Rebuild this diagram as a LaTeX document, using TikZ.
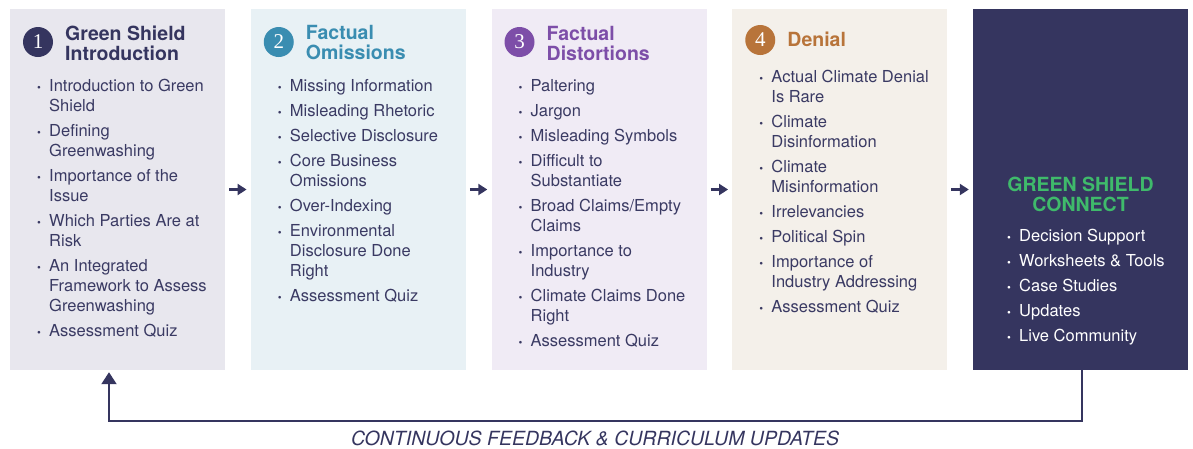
\documentclass[tikz,border=0pt]{standalone}
\usepackage{fontspec}
\setmainfont{TeX Gyre Heros}
\newfontfamily\numfont{Liberation Serif}
\definecolor{navy}{HTML}{35355F}
\definecolor{bodytext}{HTML}{3A3A63}
\definecolor{introfill}{HTML}{E8E7EE}
\definecolor{omitblue}{HTML}{3A8DB1}
\definecolor{omitfill}{HTML}{E8F1F5}
\definecolor{distpurple}{HTML}{7D4EA8}
\definecolor{distfill}{HTML}{F0EBF5}
\definecolor{denialbrown}{HTML}{B8743A}
\definecolor{denialfill}{HTML}{F4F0EA}
\definecolor{connectgreen}{HTML}{3FBA6B}
\usetikzlibrary{arrows.meta}
\newcommand{\bul}{\makebox[12pt][l]{\fontsize{11}{11}\selectfont\textbullet}}
\newcommand{\ind}{\hspace*{12pt}}

\begin{document}
\begin{tikzpicture}[x=1pt, y=-1pt,
	every node/.append style={inner sep=0pt},
	stagebox/.style={rectangle, minimum width=215pt, minimum height=361pt},
	badge/.style={circle, minimum size=30pt, text=white,
		font=\fontsize{21}{21}\numfont},
	title/.style={anchor=west, align=left,
		font=\fontsize{19.5}{20}\selectfont\bfseries},
	list/.style={anchor=north west, align=left, text=bodytext,
		font=\fontsize{16.5}{20}\selectfont},
	flow/.style={navy, line width=2.5pt, -{Triangle[length=9pt,width=11pt]}},
	back/.style={navy, line width=2pt, -{Triangle[length=12pt,width=15pt]}}]

	\useasboundingbox (0,0) rectangle (1193,448);

	% stage boxes
	\node[stagebox, fill=introfill] at (117.5, 189.5) (b1){};
	\node[stagebox, fill=omitfill] at (358.25, 189.5) (b2){};
	\node[stagebox, fill=distfill] at (599, 189.5) (b3){};
	\node[stagebox, fill=denialfill] at (839.75, 189.5) (b4){};
	\node[stagebox, fill=navy] at (1080.5, 189.5) (b5){};

	% numbers and titles
	\node[badge, fill=navy] at (38, 42) (n1){1};
	\node[title, text=navy] at (65, 43) (t1){Green Shield\\Introduction};
	\node[badge, fill=omitblue] at (278.75, 42) (n2){2};
	\node[title, text=omitblue] at (305.75, 43) (t2){Factual\\Omissions};
	\node[badge, fill=distpurple] at (519.5, 42) (n3){3};
	\node[title, text=distpurple] at (546.5, 43) (t3){Factual\\Distortions};
	\node[badge, fill=denialbrown] at (760.25, 40) (n4){4};
	\node[title, text=denialbrown] at (787.25, 39) (t4){Denial};
	\node[title, anchor=center, align=center, text=connectgreen] at (1080.5, 194) (t5){GREEN SHIELD\\CONNECT};

	% topics
	\node[list] at (37, 79) (l1){\bul Introduction to Green\\ \ind Shield\\[5pt]
		\bul Defining\\ \ind Greenwashing\\[5pt]
		\bul Importance of the\\ \ind Issue\\[5pt]
		\bul Which Parties Are at\\ \ind Risk\\[5pt]
		\bul An Integrated\\ \ind Framework to Assess\\ \ind Greenwashing\\[5pt]
		\bul Assessment Quiz};
	\node[list] at (277.75, 79) (l2){\bul Missing Information\\[5pt]
		\bul Misleading Rhetoric\\[5pt]
		\bul Selective Disclosure\\[5pt]
		\bul Core Business\\ \ind Omissions\\[5pt]
		\bul Over-Indexing\\[5pt]
		\bul Environmental\\ \ind Disclosure Done\\ \ind Right\\[5pt]
		\bul Assessment Quiz};
	\node[list] at (518.5, 79) (l3){\bul Paltering\\[5pt]
		\bul Jargon\\[5pt]
		\bul Misleading Symbols\\[5pt]
		\bul Difficult to\\ \ind Substantiate\\[5pt]
		\bul Broad Claims/Empty\\ \ind Claims\\[5pt]
		\bul Importance to\\ \ind Industry\\[5pt]
		\bul Climate Claims Done\\ \ind Right\\[5pt]
		\bul Assessment Quiz};
	\node[list] at (759.25, 70) (l4){\bul Actual Climate Denial\\ \ind Is Rare\\[5pt]
		\bul Climate\\ \ind Disinformation\\[5pt]
		\bul Climate\\ \ind Misinformation\\[5pt]
		\bul Irrelevancies\\[5pt]
		\bul Political Spin\\[5pt]
		\bul Importance of\\ \ind Industry Addressing\\[5pt]
		\bul Assessment Quiz};
	\node[list, text=white] at (1007, 229) (l5){\bul Decision Support\\[5pt]
		\bul Worksheets \& Tools\\[5pt]
		\bul Case Studies\\[5pt]
		\bul Updates\\[5pt]
		\bul Live Community};

	% arrows
	\draw[flow] ([xshift=4pt]b1.east) -- ([xshift=-4pt]b2.west);
	\draw[flow] ([xshift=4pt]b2.east) -- ([xshift=-4pt]b3.west);
	\draw[flow] ([xshift=4pt]b3.east) -- ([xshift=-4pt]b4.west);
	\draw[flow] ([xshift=4pt]b4.east) -- ([xshift=-4pt]b5.west);
	\draw[back] ([xshift=1.5pt]b5.south) -- ++(0, 51) -| ([xshift=-8.5pt, yshift=-2pt]b1.south);
	\node[text=navy, font=\fontsize{19.5}{20}\selectfont\itshape] at (595, 438) (fb){CONTINUOUS FEEDBACK \& CURRICULUM UPDATES};
\end{tikzpicture}
\end{document}
